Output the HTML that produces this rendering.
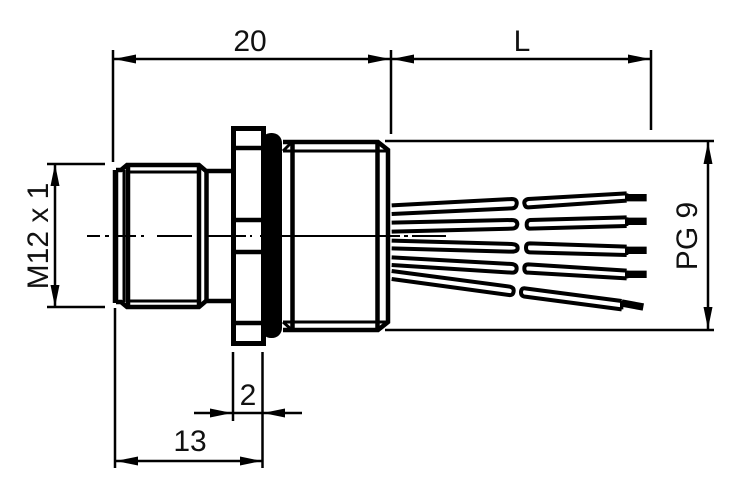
<!DOCTYPE html>
<html><head><meta charset="utf-8"><style>
html,body{margin:0;padding:0;background:#fff}
svg{display:block}
text{font-family:"Liberation Sans",sans-serif;font-size:30px;fill:#111;text-anchor:middle}
</style></head><body>
<svg width="744" height="496" viewBox="0 0 744 496" xmlns="http://www.w3.org/2000/svg">
<!-- dimension lines -->
<g stroke="#000" stroke-width="2.500" fill="none">
<path d="M113 50V162M391 50V134M651 50V130"/>
<path d="M113 59H651"/>
<path d="M47 164H105M47 307H105M385 141H714M385 330H714"/>
<path d="M55 164V307M708 141V330"/>
<path d="M115 308V468M233 352V421M262.500 352V468"/>
<path d="M194 413H302M115 461H262"/>
</g>
<g fill="#000">
<path d="M114 59l22-4.500v9zM390 59l-22-4.500v9zM392 59l22-4.500v9zM650 59l-22-4.500v9z"/>
<path d="M55 164l-4.500 22h9zM55 307l-4.500-22h9zM708 142l-4.500 22h9zM708 329l-4.500-22h9z"/>
<path d="M232 413l-22-4.500v9zM263 413l22-4.500v9zM116 461l22-4.500v9zM262 461l-22-4.500v9z"/>
</g>
<!-- connector -->
<g stroke="#000" fill="none">
<g stroke-width="4.500">
<path d="M115.500 170V303" stroke-width="5.500"/>
<path d="M128 166V306M199 166V306M206.500 171V301" />
<path d="M124 170V302" stroke-width="3"/>
<path d="M116 170H121L127 165H199L206 171H232M116 302H121L127 307H199L206 301H232"/>
<path d="M127 172H199M127 301H199" stroke-width="3"/>
<rect x="233.500" y="128.500" width="30" height="215" stroke-width="5"/>
<path d="M234 148H262M234 220H262M234 252H262M234 323H262"/>
<path d="M283 142H378L388 150V322L378 330H283M292.500 142V330M377.500 142V330"/>
<path d="M283 151H388M283 322H388M283 151L292 142M283 322L292 330" stroke-width="3"/>
</g>
<rect x="261" y="133" width="21" height="205" rx="10" fill="#000" stroke="none"/>
<path d="M87 236H100M105 236H109M118 236H136M141 236H144M157 236H192M208 236H232M236 236H246M250 236H252M260 236H400M404 236H408M412 236H446" stroke-width="2"/>
</g>
<!-- wires -->
<g transform="translate(370,130) scale(.33333)" fill="none" stroke="#000" stroke-width="12">
<path d="M65 226L425 207Q442 207 440 222Q438 235 425 235L65 252"/>
<path d="M770 190L475 207Q462 210 463 220Q465 233 475 232L770 212"/>
<path d="M65 278L425 270Q442 270 442 283Q440 296 425 296L65 305"/>
<path d="M770 262L480 270Q470 272 470 283Q470 296 480 296L770 288"/>
<path d="M65 332L425 342Q443 343 443 354Q443 365 425 365L65 355"/>
<path d="M770 350L480 340Q468 340 468 353Q468 367 480 367L770 375"/>
<path d="M65 382L425 402Q440 404 440 415Q440 428 425 428L65 405"/>
<path d="M770 422L475 403Q463 403 463 415Q463 428 475 428L770 445"/>
<path d="M65 423L420 470Q432 473 431 483Q430 497 417 495L65 447"/>
<path d="M755 513L465 475Q453 474 453 487Q453 498 465 500L755 538"/>
<path d="M770 190V212M770 262V288M770 350V375M770 422V445M755 513V538" stroke-width="10"/>
<path d="M770 203H830M770 274H830M770 361H830M770 433H830" stroke-width="22"/>
<path d="M755 519L820 531" stroke-width="22"/>
</g>
<!-- labels -->
<text x="250" y="51">20</text>
<text x="522" y="51">L</text>
<text x="248" y="405">2</text>
<text x="190" y="451">13</text>
<text transform="translate(48,236) rotate(-90)">M12 x 1</text>
<text transform="translate(697,236) rotate(-90)">PG 9</text>
</svg>
</body></html>
